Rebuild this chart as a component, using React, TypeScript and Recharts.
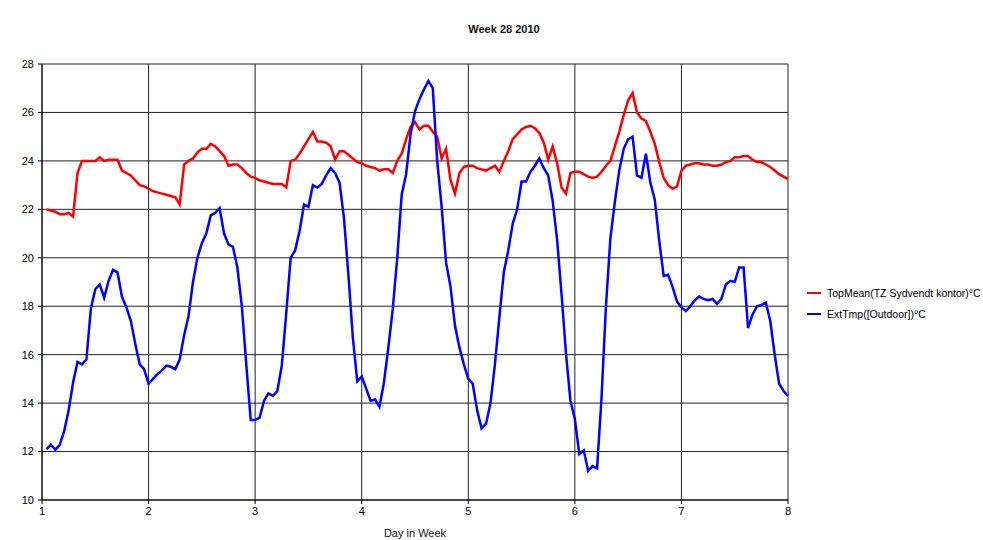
import { CartesianGrid, Legend, Line, LineChart, XAxis, YAxis } from "recharts";

// hourly readings, hour 1 .. hour 168 of week 28
const topMean = [
  22.0, 21.95, 21.9, 21.8, 21.8, 21.85, 21.7, 23.5, 24.0, 24.0,
  24.0, 24.0, 24.15, 24.0, 24.05, 24.05, 24.05, 23.6, 23.5, 23.4,
  23.2, 23.0, 22.95, 22.85, 22.75, 22.7, 22.65, 22.6, 22.55, 22.5,
  22.2, 23.85, 24.0, 24.1, 24.35, 24.5, 24.5, 24.7, 24.6, 24.4,
  24.2, 23.8, 23.85, 23.85, 23.7, 23.5, 23.35, 23.3, 23.2, 23.15,
  23.1, 23.05, 23.05, 23.05, 22.9, 24.0, 24.05, 24.3, 24.6, 24.9,
  25.2, 24.8, 24.8, 24.75, 24.6, 24.05, 24.4, 24.4, 24.25, 24.1,
  23.95, 23.9, 23.8, 23.75, 23.7, 23.6, 23.65, 23.65, 23.5, 24.0,
  24.3, 24.9, 25.4, 25.6, 25.3, 25.45, 25.45, 25.2, 25.0, 24.1,
  24.5, 23.2, 22.65, 23.5, 23.75, 23.8, 23.8, 23.7, 23.65, 23.6,
  23.7, 23.8, 23.55, 24.0, 24.4, 24.9, 25.1, 25.3, 25.4, 25.45,
  25.35, 25.15, 24.75, 24.05, 24.6, 23.9, 22.9, 22.65, 23.5, 23.55,
  23.55, 23.45, 23.35, 23.3, 23.35, 23.55, 23.8, 24.0, 24.6, 25.2,
  25.9, 26.5, 26.8, 26.0, 25.75, 25.65, 25.2, 24.7, 23.95, 23.3,
  23.0, 22.85, 22.95, 23.6, 23.8, 23.85, 23.9, 23.9, 23.85, 23.85,
  23.8, 23.8, 23.85, 23.95, 24.0, 24.15, 24.15, 24.2, 24.2, 24.05,
  23.95, 23.95, 23.85, 23.75, 23.6, 23.45, 23.35, 23.25,
];

const extTmp = [
  12.1, 12.28, 12.08, 12.28, 12.85, 13.7, 14.85, 15.7, 15.6, 15.8,
  17.9, 18.7, 18.9, 18.35, 19.05, 19.5, 19.4, 18.4, 17.95, 17.4,
  16.45, 15.6, 15.4, 14.8, 15.0, 15.2, 15.35, 15.55, 15.5, 15.4,
  15.8, 16.8, 17.6, 19.0, 20.0, 20.6, 21.0, 21.75, 21.85, 22.05,
  21.0, 20.55, 20.45, 19.6, 18.0, 15.6, 13.3, 13.3, 13.4, 14.1,
  14.4, 14.3, 14.5, 15.55, 17.7, 20.0, 20.3, 21.1, 22.2, 22.1,
  23.0, 22.9, 23.05, 23.4, 23.7, 23.5, 23.1, 21.65, 19.3, 16.7,
  14.9, 15.1, 14.6, 14.1, 14.15, 13.85, 14.85, 16.3, 17.9, 20.0,
  22.6, 23.45, 25.1, 26.05, 26.55, 26.95, 27.3, 27.0, 24.0, 22.1,
  19.8, 18.8, 17.2, 16.3, 15.6, 15.0, 14.8, 13.7, 12.95, 13.15,
  14.0, 15.6, 17.55, 19.4, 20.3, 21.4, 22.0, 23.15, 23.15, 23.55,
  23.8, 24.1, 23.7, 23.4, 22.35, 20.75, 18.5, 16.05, 14.1, 13.35,
  11.9, 12.05, 11.2, 11.4, 11.3, 14.2, 18.0, 20.8, 22.3, 23.6,
  24.5, 24.9, 25.0, 23.4, 23.3, 24.3, 23.1, 22.4, 20.7, 19.25,
  19.3, 18.8, 18.2, 17.95, 17.8, 18.0, 18.25, 18.4, 18.3, 18.25,
  18.3, 18.1, 18.3, 18.9, 19.05, 19.0, 19.6, 19.6, 17.1, 17.65,
  18.0, 18.05, 18.15, 17.4, 16.0, 14.8, 14.5, 14.3,
];

const dayTicks = [1, 2, 3, 4, 5, 6, 7, 8];
const tempTicks = [10, 12, 14, 16, 18, 20, 22, 24, 26, 28];

const series = [
  { key: "top", name: "TopMean(TZ Sydvendt kontor)°C", color: "#ff0000" },
  { key: "ext", name: "ExtTmp([Outdoor])°C", color: "#0000ff" },
];

const data = topMean.map((v, i) => ({
  day: 1 + (i + 1) / 24,
  top: v,
  ext: extTmp[i],
}));

const font = "'Liberation Sans', Arial, sans-serif";

function LegendBox() {
  return (
    <div style={{ fontFamily: font, fontSize: 10.5, color: "#000", whiteSpace: "nowrap" }}>
      {series.map((s) => (
        <div key={s.key} style={{ display: "flex", alignItems: "center", height: 21 }}>
          <span
            style={{
              display: "inline-block",
              flexShrink: 0,
              width: 14,
              height: 2,
              background: s.color,
              marginRight: 6,
            }}
          />
          {s.name}
        </div>
      ))}
    </div>
  );
}

export default function App() {
  return (
    <div style={{ position: "absolute", left: 0, top: 0, width: 983, height: 540, background: "#fff" }}>
      <div
        style={{
          position: "absolute",
          left: 504,
          top: 23,
          transform: "translateX(-50%)",
          fontFamily: font,
          fontSize: 11,
          fontWeight: "bold",
          color: "#111",
          whiteSpace: "nowrap",
        }}
      >
        Week 28 2010
      </div>
      <div
        style={{
          position: "absolute",
          left: 415,
          top: 527,
          transform: "translateX(-50%)",
          fontFamily: font,
          fontSize: 11,
          color: "#111",
          whiteSpace: "nowrap",
        }}
      >
        Day in Week
      </div>
      <LineChart
        width={983}
        height={540}
        data={data}
        margin={{ top: 64, right: 195, bottom: 0, left: 0 }}
      >
        <CartesianGrid stroke="#222" strokeWidth={1} />
        <XAxis
          dataKey="day"
          type="number"
          domain={[1, 8]}
          ticks={dayTicks}
          height={40}
          stroke="#000"
          tickSize={4}
          tickMargin={3}
          tick={{ fill: "#000", fontSize: 11, fontFamily: font }}
        />
        <YAxis
          type="number"
          domain={[10, 28]}
          ticks={tempTicks}
          width={42}
          stroke="#000"
          tickSize={4}
          tickMargin={4}
          tick={{ fill: "#000", fontSize: 11, fontFamily: font }}
        />
        <Legend
          layout="horizontal"
          verticalAlign="middle"
          align="center"
          wrapperStyle={{ left: 807, top: 282, width: 176 }}
          content={<LegendBox />}
        />
        {series.map((s) => (
          <Line
            key={s.key}
            type="linear"
            dataKey={s.key}
            name={s.name}
            stroke={s.color}
            strokeWidth={2.5}
            dot={false}
            isAnimationActive={false}
          />
        ))}
      </LineChart>
    </div>
  );
}
